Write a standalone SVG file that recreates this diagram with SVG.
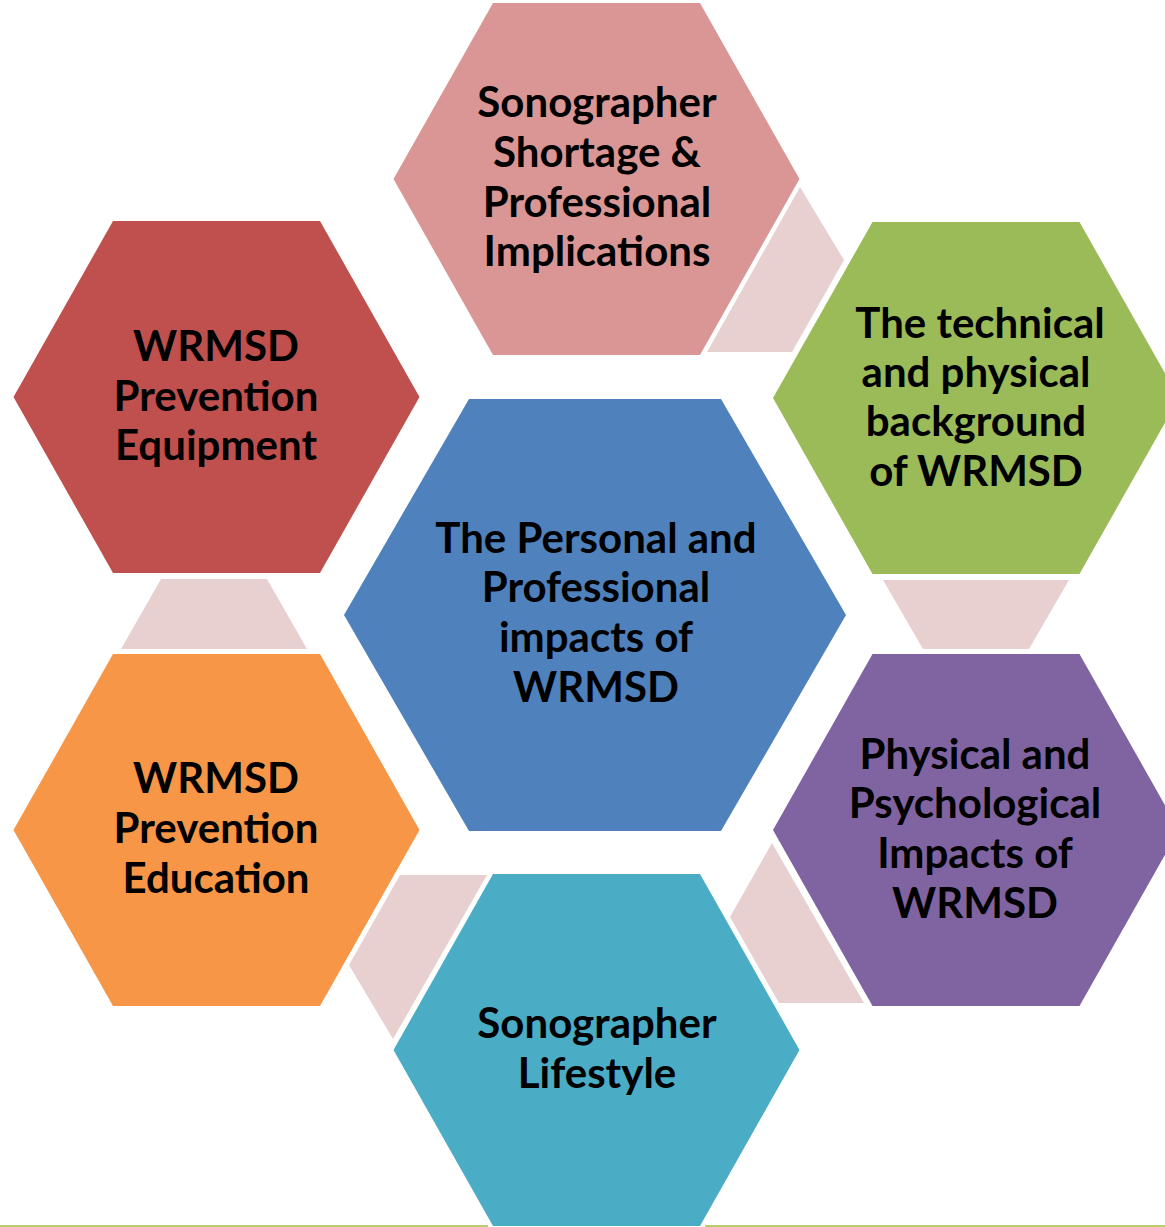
<svg xmlns="http://www.w3.org/2000/svg" width="1165" height="1227" viewBox="0 0 1165 1227">
<style>
.t{font-family:Lato,"Open Sans","Liberation Sans",sans-serif;font-weight:bold;font-size:42px;fill:#000;text-anchor:middle}
.c{fill:#E8D0D1}
</style>
<defs>
<polygon id="hex" points="-203,0 -103.5,-176 103.5,-176 203,0 103.5,176 -103.5,176"/>
</defs>
<rect width="1165" height="1227" fill="#fff"/>
<g id="connectors">
<polygon class="c" points="800,187 844,260 792,352 707,352"/>
<polygon class="c" points="883,580 1069,580 1029,649 923,649"/>
<polygon class="c" points="772,843 730,917 779,1003 864,1003"/>
<polygon class="c" points="400,875 487,875 393,1039 349,965"/>
<polygon class="c" points="161,579 267,579 307,649 121,649"/>
</g>
<line x1="0" y1="1226" x2="488" y2="1226" stroke="#A5B83C" stroke-width="1.5"/>
<line x1="705" y1="1226" x2="1165" y2="1226" stroke="#A5B83C" stroke-width="1.5"/>
<g id="node-top">
<use href="#hex" transform="translate(596.5,179)" fill="#D99694"/>
<text class="t" x="597" y="117">Sonographer</text>
<text class="t" x="597" y="167">Shortage &amp;</text>
<text class="t" x="597" y="217">Professional</text>
<text class="t" x="597" y="266">Implications</text>
</g>
<g id="node-equipment">
<use href="#hex" transform="translate(216.5,397)" fill="#C0504D"/>
<text class="t" x="216" y="361">WRMSD</text>
<text class="t" x="216" y="411">Prevention</text>
<text class="t" x="216" y="460">Equipment</text>
</g>
<g id="node-technical">
<use href="#hex" transform="translate(976,398)" fill="#9BBB59"/>
<text class="t" x="980" y="338">The technical</text>
<text class="t" x="976" y="387">and physical</text>
<text class="t" x="976" y="436">background</text>
<text class="t" x="976" y="486">of WRMSD</text>
</g>
<g id="node-physical">
<use href="#hex" transform="translate(976,830)" fill="#8064A2"/>
<text class="t" x="975" y="769">Physical and</text>
<text class="t" x="975" y="818">Psychological</text>
<text class="t" x="975" y="868">Impacts of</text>
<text class="t" x="975" y="918">WRMSD</text>
</g>
<g id="node-education">
<use href="#hex" transform="translate(216.5,830)" fill="#F79646"/>
<text class="t" x="216" y="793">WRMSD</text>
<text class="t" x="216" y="843">Prevention</text>
<text class="t" x="216" y="893">Education</text>
</g>
<g id="node-lifestyle">
<use href="#hex" transform="translate(596.5,1050)" fill="#4BACC6"/>
<text class="t" x="597" y="1038">Sonographer</text>
<text class="t" x="597" y="1088">Lifestyle</text>
</g>
<g id="node-center">
<polygon points="344,615 469,399 721,399 846,615 721,831 469,831" fill="#4F81BD"/>
<text class="t" x="596" y="553">The Personal and</text>
<text class="t" x="596" y="602">Professional</text>
<text class="t" x="596" y="652">impacts of</text>
<text class="t" x="596" y="702">WRMSD</text>
</g>
</svg>
